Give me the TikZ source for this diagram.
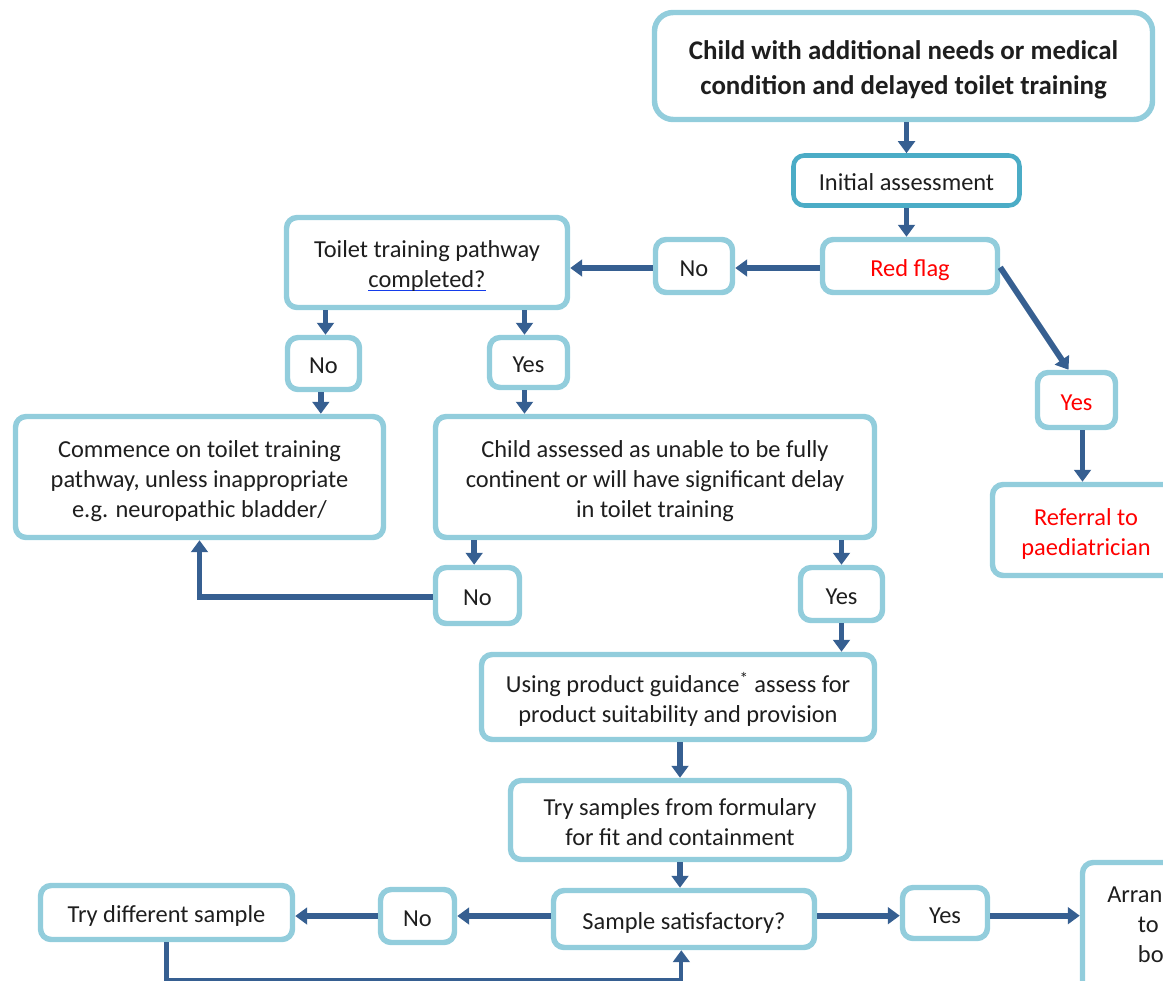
\documentclass[tikz,border=0pt]{standalone}
\usepackage{fontspec}
\setmainfont{Carlito}
\usetikzlibrary{arrows.meta}

\definecolor{boxline}{RGB}{146,205,220}
\definecolor{boxdark}{RGB}{75,172,198}
\definecolor{arrowblue}{RGB}{54,95,145}
\definecolor{flagred}{RGB}{255,0,0}
\definecolor{inktext}{RGB}{30,30,30}
\definecolor{linkblue}{RGB}{20,60,235}

% struts that give every text line the same ascent and descent
\newcommand{\boxtopstrut}{\rule{0pt}{1.1em}}
\newcommand{\boxbotstrut}{\rule[-0.25em]{0pt}{0pt}}
% text with a blue underline beneath dark letters
\newlength{\underlen}
\newcommand{\blueunder}[1]{\settowidth{\underlen}{#1}%
  \rlap{\textcolor{linkblue}{\rule[-2.6pt]{\underlen}{0.8pt}}}#1}

\tikzset{
  box/.style={draw=boxline, line width=4.1pt, rounded corners=8pt, fill=white,
    align=center, inner sep=0pt, text=inktext,
    font=\fontsize{18.3}{22.5}\selectfont,
    execute at begin node={\boxtopstrut},
    execute at end node={\boxbotstrut}},
  redtext/.style={text=flagred},
  arr/.style={draw=arrowblue, line width=4.4pt, -{Triangle[length=9pt,width=12.5pt]}},
  looparr/.style={arr, line width=3.2pt},
}

\begin{document}
\begin{tikzpicture}[x=0.75pt,y=-0.75pt]
\useasboundingbox (0,0) rectangle (1163,981);
\clip (0,0) rectangle (1163,981);

% ---- boxes ----
\node[box, rounded corners=14pt, minimum width=373.5pt, minimum height=80.25pt,
  font=\bfseries\fontsize{20.2}{26.25}\selectfont] (top) at (903.5,66)
  {\boxtopstrut Child with additional needs or medical\\condition and delayed toilet training\boxbotstrut};
\node[box, draw=boxdark, line width=3.4pt, minimum width=169.5pt, minimum height=37.5pt]
  (init) at (906.5,180.5) {Initial assessment};
\node[box, redtext, minimum width=131.25pt, minimum height=39.75pt] (red) at (910,266) {Red flag};
\node[box, minimum width=57.75pt, minimum height=39.75pt] (no1) at (694,266) {No};
\node[box, minimum width=210.75pt, minimum height=67.5pt] (toilet) at (427,262.5)
  {\boxtopstrut Toilet training pathway\\\blueunder{completed?}\boxbotstrut};
\node[box, minimum width=54pt, minimum height=39pt] (no2) at (323.5,363.5) {No};
\node[box, minimum width=58.5pt, minimum height=37.5pt] (yes2) at (528.5,362.5) {Yes};
\node[box, minimum width=276pt, minimum height=90.75pt] (commence) at (199.5,477)
  {\boxtopstrut Commence on toilet training\\pathway, unless inappropriate\\e.g. neuropathic bladder/\boxbotstrut};
\node[box, minimum width=329.25pt, minimum height=90.75pt] (assessed) at (655,477)
  {\boxtopstrut Child assessed as unable to be fully\\continent or will have significant delay\\in toilet training\boxbotstrut};
\node[box, minimum width=63pt, minimum height=42pt] (no3) at (477.5,595.5) {No};
\node[box, minimum width=61.5pt, minimum height=39.75pt] (yes3) at (841.5,594) {Yes};
\node[box, minimum width=294.75pt, minimum height=63.75pt] (guidance) at (678,697)
  {\boxtopstrut Using product guidance\textsuperscript{*} assess for\\product suitability and provision\boxbotstrut};
\node[box, minimum width=254.25pt, minimum height=59.25pt] (samples) at (680,820)
  {\boxtopstrut Try samples from formulary\\for fit and containment\boxbotstrut};
\node[box, minimum width=195.75pt, minimum height=42.75pt] (satisf) at (684,919) {Sample satisfactory?};
\node[box, minimum width=55.5pt, minimum height=39.75pt] (no4) at (417.5,916) {No};
\node[box, minimum width=189pt, minimum height=40.5pt] (trydiff) at (166.5,912.5) {Try different sample};
\node[box, minimum width=63.75pt, minimum height=38.25pt] (yes4) at (945,913) {Yes};
\node[box, minimum width=146.25pt, minimum height=101.25pt] (arrange) at (1180,930) {};
\node[text=inktext, font=\fontsize{18.3}{22.5}\selectfont, align=left, anchor=north west,
  inner sep=0pt] (arrangetext) at (1107,887) {Arran\\\hspace*{23pt}to\\\hspace*{23pt}bo};
\node[box, redtext, minimum width=58.5pt, minimum height=41.25pt] (yesr) at (1076.5,400) {Yes};
\node[box, redtext, minimum width=140.25pt, minimum height=68.25pt] (referral) at (1086,530)
  {\boxtopstrut Referral to\\paediatrician\boxbotstrut};

% ---- connectors ----
\draw[arr] (init.north |- top.south) -- (init.north);
\draw[arr] (init.south) -- (init.south |- red.north);
\draw[arr] ([yshift=-1.5pt]red.west) -- ([yshift=-1.5pt]no1.east);
\draw[arr] ([yshift=-1.5pt]no1.west) -- ([yshift=-1.5pt]no1.west -| toilet.east);
\draw[arr] ([xshift=1.5pt]no2.north |- toilet.south) -- ([xshift=1.5pt]no2.north);
\draw[arr] ([xshift=-3pt]yes2.north |- toilet.south) -- ([xshift=-3pt]yes2.north);
\draw[arr] ([xshift=-2pt]no2.south) -- ([xshift=-2pt]no2.south |- commence.north);
\draw[arr] ([xshift=-3pt]yes2.south) -- ([xshift=-3pt]yes2.south |- assessed.north);
\draw[arr] ([xshift=-2.5pt]no3.north |- assessed.south) -- ([xshift=-2.5pt]no3.north);
\draw[arr] (yes3.north |- assessed.south) -- (yes3.north);
\draw[arr] ([yshift=-1pt]no3.west) -| (commence.south);
\draw[arr] (yes3.south) -- (yes3.south |- guidance.north);
\draw[arr] (samples.north |- guidance.south) -- (samples.north);
\draw[arr] (samples.south) -- (samples.south |- satisf.north);
\draw[arr] (no4.east -| satisf.west) -- (no4.east);
\draw[arr] (no4.west) -- (no4.west -| trydiff.east);
\draw[arr] ([yshift=-2pt]yes4.west -| satisf.east) -- ([yshift=-2pt]yes4.west);
\draw[arr] ([yshift=-2pt]yes4.east) -- ([yshift=-2pt]yes4.east -| arrange.west);
\draw[arr] ([yshift=-1pt]red.east) -- ([xshift=-6pt]yesr.north);
\draw[arr] ([xshift=4.5pt]yesr.south) -- ([xshift=4.5pt]yesr.south |- referral.north);
\draw[looparr] (trydiff.south) -- ++(0,38) -| ([xshift=-2pt]satisf.south);
\end{tikzpicture}
\end{document}
